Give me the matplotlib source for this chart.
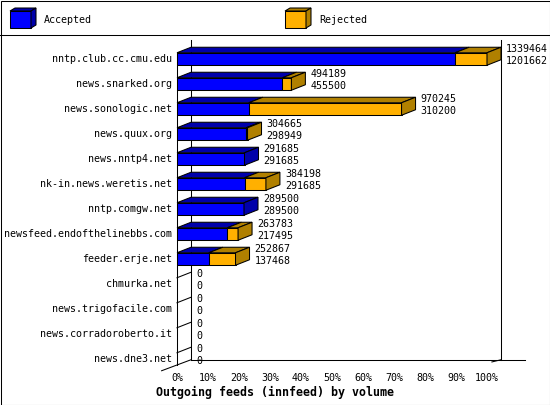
import matplotlib
matplotlib.use("Agg")
import matplotlib.pyplot as plt
from matplotlib.patches import Polygon, Rectangle

# innfeed outgoing feeds: total offered (top number) and accepted (bottom number)
hosts = [
    "nntp.club.cc.cmu.edu",
    "news.snarked.org",
    "news.sonologic.net",
    "news.quux.org",
    "news.nntp4.net",
    "nk-in.news.weretis.net",
    "nntp.comgw.net",
    "newsfeed.endofthelinebbs.com",
    "feeder.erje.net",
    "chmurka.net",
    "news.trigofacile.com",
    "news.corradoroberto.it",
    "news.dne3.net",
]
total = [1339464, 494189, 970245, 304665, 291685, 384198, 289500,
         263783, 252867, 0, 0, 0, 0]
accepted = [1201662, 455500, 310200, 298949, 291685, 291685, 289500,
            217495, 137468, 0, 0, 0, 0]
ticks = list(range(0, 101, 10))
tick_labels = [f"{t}%" for t in ticks]

BLUE, BLUE_DARK = "#0000ff", "#0000aa"
ORANGE, ORANGE_DARK = "#ffb000", "#b08000"
MONO = "DejaVu Sans Mono"

peak = max(total)
pct_total = [100.0 * t / peak for t in total]
pct_acc = [100.0 * a / peak for a in accepted]

fig = plt.figure(figsize=(5.5, 4.05), dpi=100)
fig.patch.set_facecolor("white")

# chart axes: x in percent, y in rows (row 0 on top)
PX = 3.1      # pixels per percent
X0 = 177      # pixel of 0%
ROW = 25      # pixels per row
Y0 = 59.0     # pixel of first row centre
ax = fig.add_axes([0, 0, 1, 1])
ax.set_xlim(-X0 / PX, (550 - X0) / PX)
ax.set_ylim((405 - Y0) / ROW, -Y0 / ROW)
ax.axis("off")

DX = 14 / PX     # depth, to the right
DY = -5.5 / ROW  # depth, upwards
H = 0.25         # half height of a bar front
n = len(hosts)
floor = n - 1 + H
top_wall = -0.76
lw = 0.75


def poly(pts, color):
    ax.add_patch(Polygon(pts, closed=True, facecolor=color, edgecolor="black",
                         lw=lw, zorder=3))


def line(xs, ys):
    ax.plot(xs, ys, color="black", lw=lw, zorder=2)


# back wall and floor
line([DX, DX], [top_wall, floor + DY])
line([100 + DX, 100 + DX], [top_wall, floor + DY])
line([DX, (525 - X0) / PX], [floor + DY, floor + DY])
line([-DX * 1.1, DX], [floor - DY, floor + DY])
line([100 + DX, 100 + DX * 0.35], [floor + DY, floor + DY * 0.6])
line([0, 0], [-H, floor])

for i in range(n):
    a, b = pct_acc[i], pct_total[i]
    yt, yb = i - H, i + H
    if b > 0:
        # accepted part
        poly([(0, yt), (a, yt), (a, yb), (0, yb)], BLUE)
        poly([(0, yt), (a, yt), (a + DX, yt + DY), (DX, yt + DY)], BLUE_DARK)
        side = BLUE_DARK
        if b > a:
            poly([(a, yt), (b, yt), (b, yb), (a, yb)], ORANGE)
            poly([(a, yt), (b, yt), (b + DX, yt + DY), (a + DX, yt + DY)], ORANGE_DARK)
            side = ORANGE_DARK
        poly([(b, yt), (b + DX, yt + DY), (b + DX, yb + DY), (b, yb)], side)
    else:
        line([0, DX], [yt, yt + DY])

    ax.text(-1.6, i, hosts[i], ha="right", va="center", family=MONO,
            fontsize=7.2, zorder=4)
    vx = b + 19 / PX
    ax.text(vx, i - 0.4, str(total[i]), ha="left", va="center",
            family=MONO, fontsize=7.2, zorder=4)
    ax.text(vx, i + 0.08, str(accepted[i]), ha="left", va="center",
            family=MONO, fontsize=7.2, zorder=4)

for t, lab in zip(ticks, tick_labels):
    ax.text(t, floor + 0.5, lab, ha="center", va="center", family=MONO,
            fontsize=7.2)

ax.text(0.5, 1 - 392 / 405, "Outgoing feeds (innfeed) by volume",
        transform=ax.transAxes, ha="center", va="center", family=MONO,
        fontsize=8.4, fontweight="bold")

# legend band and frame, in pixel coordinates
lg = fig.add_axes([0, 0, 1, 1], facecolor="none")
lg.set_xlim(0, 550)
lg.set_ylim(405, 0)
lg.axis("off")
lg.add_patch(Rectangle((0.5, 0.5), 549, 404, fill=False, edgecolor="black",
                       lw=lw))
lg.plot([0, 550], [34.5, 34.5], color="black", lw=lw)

for x, face, shade, name in [(10, BLUE, BLUE_DARK, "Accepted"),
                             (285, ORANGE, ORANGE_DARK, "Rejected")]:
    w, h, d, e = 21, 17, 5, 3
    y = 11
    lg.add_patch(Polygon([(x, y), (x + w, y), (x + w, y + h), (x, y + h)],
                         facecolor=face, edgecolor="black", lw=lw))
    lg.add_patch(Polygon([(x, y), (x + w, y), (x + w + d, y - e), (x + d, y - e)],
                         facecolor=shade, edgecolor="black", lw=lw))
    lg.add_patch(Polygon([(x + w, y), (x + w + d, y - e), (x + w + d, y + h - e), (x + w, y + h)],
                         facecolor=shade, edgecolor="black", lw=lw))
    lg.text(x + 34, 20, name, ha="left", va="center", family=MONO, fontsize=7.2)

fig.savefig("out.png", dpi=100)
